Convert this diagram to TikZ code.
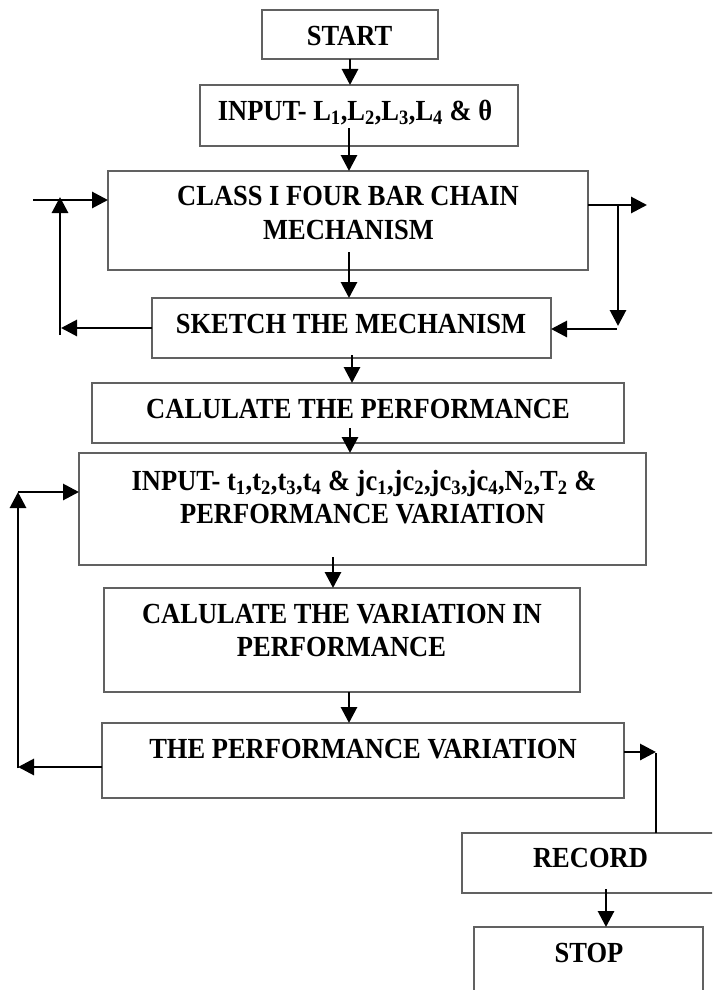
\documentclass[tikz,border=0pt]{standalone}
\usepackage{fontspec}
\setmainfont{Liberation Serif}
\usetikzlibrary{arrows.meta}
\newcommand{\tallt}[1]{\scalebox{1}[1.1]{#1}}
\begin{document}
\begin{tikzpicture}[x=1pt,y=-1pt,
  box/.style={draw=black!62, line width=1.4pt, rectangle, inner sep=0pt, outer sep=0pt},
  txt/.style={anchor=base, inner sep=0pt, outer sep=0pt, font=\fontsize{26.5}{32}\selectfont\bfseries},
  arr/.style={line width=2.9pt, -{Triangle[length=16pt,width=16pt]}},
  ln/.style={line width=2.9pt}]
\useasboundingbox (0,0) rectangle (712,990);
\clip (0,0) rectangle (712,990);
\fill[white] (0,0) rectangle (712,990);

% boxes
\node[box, minimum width=176pt, minimum height=49pt]  (start) at (350,34.5) {};
\node[box, minimum width=318pt, minimum height=61pt]  (inp)   at (359,115.5) {};
\node[box, minimum width=480pt, minimum height=99pt]  (cls)   at (348,220.5) {};
\node[box, minimum width=399pt, minimum height=60pt]  (sk)    at (351.5,328) {};
\node[box, minimum width=532pt, minimum height=60pt]  (cp)    at (358,413) {};
\node[box, minimum width=567pt, minimum height=112pt] (in2)   at (362.5,509) {};
\node[box, minimum width=476pt, minimum height=104pt] (cv)    at (342,640) {};
\node[box, minimum width=522pt, minimum height=75pt]  (pv)    at (363,760.5) {};
\node[box, minimum width=252pt, minimum height=60pt]  (rec)   at (588,863) {};
\node[box, minimum width=229pt, minimum height=73pt]  (stop)  at (588.5,963.5) {};

% texts
\node[txt] (tstart) at (349.5,45.5) {\tallt{START}};
\node[txt] (tinp) at (355,120.5) {\tallt{INPUT- L\textsubscript{1},L\textsubscript{2},L\textsubscript{3},L\textsubscript{4} \& θ}};
\node[txt] (tcls1) at (348,205) {\tallt{CLASS I FOUR BAR CHAIN}};
\node[txt] (tcls2) at (348.5,239.5) {\tallt{MECHANISM}};
\node[txt] (tsk) at (351,333) {\tallt{SKETCH THE MECHANISM}};
\node[txt] (tcp) at (358,418) {\tallt{CALULATE THE PERFORMANCE}};
\node[txt] (tin2a) at (364,490) {\tallt{INPUT- t\textsubscript{1},t\textsubscript{2},t\textsubscript{3},t\textsubscript{4} \& jc\textsubscript{1},jc\textsubscript{2},jc\textsubscript{3},jc\textsubscript{4},N\textsubscript{2},T\textsubscript{2} \&}};
\node[txt] (tin2b) at (362.5,523) {\tallt{PERFORMANCE VARIATION}};
\node[txt] (tcv1) at (342,623) {\tallt{CALULATE THE VARIATION IN}};
\node[txt] (tcv2) at (341.5,656.5) {\tallt{PERFORMANCE}};
\node[txt] (tpv) at (363,758) {\tallt{THE PERFORMANCE VARIATION}};
\node[txt] (trec) at (590.5,867) {\tallt{RECORD}};
\node[txt] (tstop) at (589,962.5) {\tallt{STOP}};

% main flow
\coordinate (c2) at (349,128);
\coordinate (c3) at (349,252);
\coordinate (c4) at (352,355);
\coordinate (c5) at (350,428);
\coordinate (c6) at (333,557);
\coordinate (c7) at (349,692);
\coordinate (c8) at (606,889);
\draw[arr] (start.south) -- (inp.north -| start.south);
\draw[arr] (c2) -- (cls.north -| c2);
\draw[arr] (c3) -- (sk.north -| c3);
\draw[arr] (c4) -- (cp.north -| c4);
\draw[arr] (c5) -- (in2.north -| c5);
\draw[arr] (c6) -- (cv.north -| c6);
\draw[arr] (c7) -- (pv.north -| c7);
\draw[arr] (c8) -- (stop.north -| c8);

% upper left loop
\coordinate (l1) at (33,200);
\coordinate (l2) at (60,335);
\coordinate (l3) at (60,197);
\coordinate (l4) at (61,328);
\draw[arr] (l1) -- (cls.west |- l1);
\draw[arr] (l2) -- (l3);
\draw[arr] (sk.west |- l4) -- (l4);

% upper right loop
\coordinate (r1) at (647,205);
\coordinate (r2) at (618,205);
\coordinate (r3) at (618,326);
\coordinate (r4) at (617,329);
\draw[arr] (cls.east |- r1) -- (r1);
\draw[arr] (r2) -- (r3);
\draw[arr] (r4) -- (sk.east |- r4);

% lower left loop
\coordinate (b1) at (18,767);
\coordinate (b2) at (18,492);
\draw[arr] (pv.west |- b1) -- (b1);
\draw[arr] ([yshift=-1.45pt]b1) -- (b2);
\draw[arr] (b2) -- (in2.west |- b2);

% lower right
\coordinate (d1) at (656,752);
\draw[arr] (pv.east |- d1) -- (d1);
\draw[ln] (rec.north -| d1) -- ([yshift=-1.45pt]d1);
\end{tikzpicture}
\end{document}
